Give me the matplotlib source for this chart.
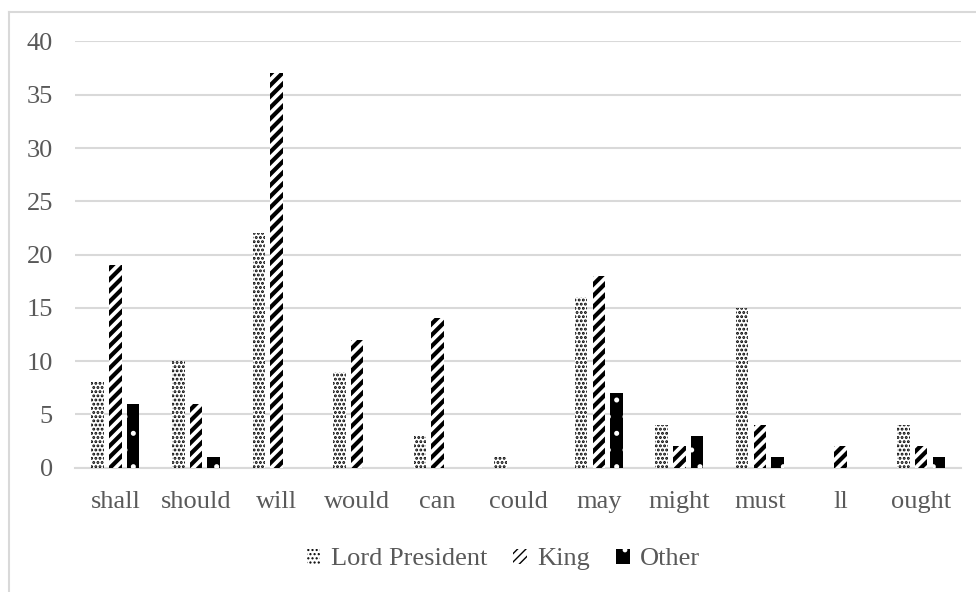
import matplotlib
matplotlib.use("Agg")
import matplotlib.pyplot as plt
import numpy as np
from matplotlib.lines import Line2D
from matplotlib.patches import Patch

categories = ["shall", "should", "will", "would", "can", "could", "may",
              "might", "must", "ll", "ought"]
lord_president = [8, 10, 22, 9, 3, 1, 16, 4, 15, 0, 4]
king = [19, 6, 37, 12, 14, 0, 18, 2, 4, 2, 2]
other = [6, 1, 0, 0, 0, 0, 7, 3, 1, 0, 1]
series_names = ["Lord President", "King", "Other"]
y_ticks = [0, 5, 10, 15, 20, 25, 30, 35, 40]

plt.rcParams["font.family"] = ["Liberation Serif", "DejaVu Serif"]
text_color = "#595959"
font_size = 19

fig = plt.figure(figsize=(9.76, 5.92), dpi=100)
ax = fig.add_axes([0.077, 0.21, 0.908, 0.72])

x = np.arange(len(categories))
w = 0.155
gap = 0.22


def set_hatch_width(artists, lw):
    for a in artists:
        if hasattr(a, "set_hatch_linewidth"):
            a.set_hatch_linewidth(lw)
        else:
            a._hatch_linewidth = lw


with plt.rc_context({"hatch.linewidth": 1.4}):
    b1 = ax.bar(x - gap, lord_president, w, facecolor="white", edgecolor="black",
                hatch="....", linewidth=0, zorder=3)
    set_hatch_width(b1, 1.4)
with plt.rc_context({"hatch.linewidth": 3.0}):
    b2 = ax.bar(x, king, w, facecolor="white", edgecolor="black",
                hatch="///", linewidth=0, zorder=3)
    set_hatch_width(b2, 3.0)
with plt.rc_context({"hatch.linewidth": 1.2}):
    b3 = ax.bar(x + gap, other, w, facecolor="black", edgecolor="white",
                hatch=".", linewidth=0, zorder=3)
    set_hatch_width(b3, 1.2)

ax.set_xlim(-0.5, len(categories) - 0.5)
ax.set_ylim(0, 40)
ax.set_yticks(y_ticks)
ax.set_xticks(x)
ax.set_xticklabels(categories)
ax.tick_params(axis="both", length=0, labelsize=font_size, colors=text_color)
ax.tick_params(axis="x", pad=17)
ax.tick_params(axis="y", pad=16)
ax.yaxis.grid(True, color="#d9d9d9", linewidth=1.5, zorder=0)
for side in ["top", "right", "left"]:
    ax.spines[side].set_visible(False)
ax.spines["bottom"].set_color("#d9d9d9")
ax.spines["bottom"].set_linewidth(1.5)

with plt.rc_context({"hatch.linewidth": 2.0}):
    handles = [
        Patch(facecolor="white", edgecolor="black", hatch="....", linewidth=0),
        Patch(facecolor="white", edgecolor="black", hatch="////", linewidth=0),
        Patch(facecolor="black", edgecolor="white", hatch=".", linewidth=0),
    ]
leg = fig.legend(handles, series_names, loc="center", bbox_to_anchor=(0.516, 0.055),
                 ncol=3, frameon=False, fontsize=font_size, handlelength=0.5,
                 handleheight=0.5, handletextpad=0.4, columnspacing=1.0)
for t in leg.get_texts():
    t.set_color(text_color)

# chart frame: left and top edges
fig.add_artist(Line2D([0.0095, 0.0095], [0.0, 0.98], transform=fig.transFigure,
                      color="#d9d9d9", linewidth=1.5))
fig.add_artist(Line2D([0.0095, 1.0], [0.98, 0.98], transform=fig.transFigure,
                      color="#d9d9d9", linewidth=1.5))

fig.savefig("out.png", dpi=100, facecolor="white")
